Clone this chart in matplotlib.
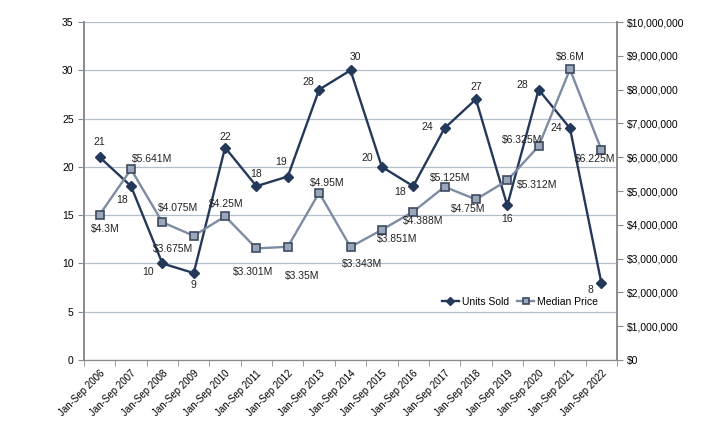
import numpy as np
import matplotlib
matplotlib.use('Agg')
import matplotlib.pyplot as plt
from matplotlib.ticker import FuncFormatter, MultipleLocator

plt.rcParams['font.family'] = ['Liberation Sans', 'DejaVu Sans']

# Data
periods = ['Jan-Sep %d' % y for y in range(2006, 2023)]
units_sold = [21, 18, 10, 9, 22, 18, 19, 28, 30, 20, 18, 24, 27, 16, 28, 24, 8]
median_price = [4300000, 5641000, 4075000, 3675000, 4250000, 3301000, 3350000,
                4950000, 3343000, 3851000, 4388000, 5125000, 4750000, 5312000,
                6325000, 8600000, 6225000]
price_labels = ['$4.3M', '$5.641M', '$4.075M', '$3.675M', '$4.25M', '$3.301M',
                '$3.35M', '$4.95M', '$3.343M', '$3.851M', '$4.388M', '$5.125M',
                '$4.75M', '$5.312M', '$6.325M', '$8.6M', '$6.225M']

# label offsets in pixels (style only)
units_off = [(0, 15), (-9, -14), (-14, -9), (0, -12), (0, 11), (0, 12), (-7, 15),
             (-11, 8), (5, 13), (-15, 9), (-13, -6), (-17, 1), (0, 12), (0, -14),
             (-16, 5), (-14, 0), (-11, -7)]
price_off = [(6, -14), (21, 10), (16, 14), (-21, -13), (1, 12), (-3, -24), (14, -29),
             (8, 10), (12, -17), (15, -9), (10, -9), (6, 9), (-8, -10), (30, -5),
             (-16, 6), (0, 12), (-6, -9)]

navy = '#24385a'
steel = '#7d8ca3'
grid_c = '#b4bfcc'
spine_c = '#8a8a8a'

fig = plt.figure(figsize=(7.2, 4.44), dpi=100)
ax1 = fig.add_axes([84 / 720, 84 / 444, 533 / 720, 338 / 444])
ax2 = ax1.twinx()

x = np.arange(len(periods))

ax1.set_ylim(0, 35)
ax1.yaxis.set_major_locator(MultipleLocator(5))
ax1.set_xlim(-0.5, len(periods) - 0.5)
ax1.grid(axis='y', color=grid_c, linewidth=0.9)
ax1.set_axisbelow(True)

l1, = ax1.plot(x, units_sold, color=navy, linewidth=1.7, marker='D', markersize=5.5,
               markerfacecolor=navy, markeredgecolor=navy, label='Units Sold', zorder=3)

ax2.set_ylim(0, 10000000)
ax2.yaxis.set_major_locator(MultipleLocator(1000000))
ax2.yaxis.set_major_formatter(FuncFormatter(lambda v, p: '${:,.0f}'.format(v)))
l2, = ax2.plot(x, median_price, color=steel, linewidth=1.7, marker='s', markersize=6,
               markerfacecolor='#9aa7bb', markeredgecolor='#3d4a60', markeredgewidth=1.2,
               label='Median Price', zorder=3)

for xi, v, off in zip(x, units_sold, units_off):
    ax1.annotate(str(v), (xi, v), xytext=off, textcoords='offset pixels',
                 ha='center', va='center', fontsize=7.5, color='#222222')
for xi, v, lab, off in zip(x, median_price, price_labels, price_off):
    ax2.annotate(lab, (xi, v), xytext=off, textcoords='offset pixels',
                 ha='center', va='center', fontsize=7.5, color='#222222')

# category axis: labels at centers, tick marks between categories
ax1.set_xticks(x)
ax1.set_xticklabels(periods, rotation=45, ha='right', rotation_mode='anchor', fontsize=7)
ax1.tick_params(axis='x', which='major', length=0, pad=6)
ax1.set_xticks(np.arange(-0.5, len(periods), 1), minor=True)
ax1.tick_params(axis='x', which='minor', length=4, color=spine_c, direction='out')
ax1.tick_params(axis='y', labelsize=7.5, length=4, color=spine_c)
ax2.tick_params(axis='y', labelsize=7.5, length=4, color=spine_c)

for a in (ax1, ax2):
    a.spines['top'].set_visible(False)
    a.spines['left'].set_color(spine_c)
    a.spines['right'].set_color(spine_c)
    a.spines['bottom'].set_color(spine_c)
    a.spines['left'].set_linewidth(1.2)
    a.spines['right'].set_linewidth(1.2)

ax2.legend(handles=[l1, l2], loc='center', bbox_to_anchor=(0.818, 0.172),
           ncol=2, frameon=False, fontsize=7.5, handlelength=1.6,
           handletextpad=0.3, columnspacing=0.8, markerscale=0.8)

fig.savefig('out.png', dpi=100)
